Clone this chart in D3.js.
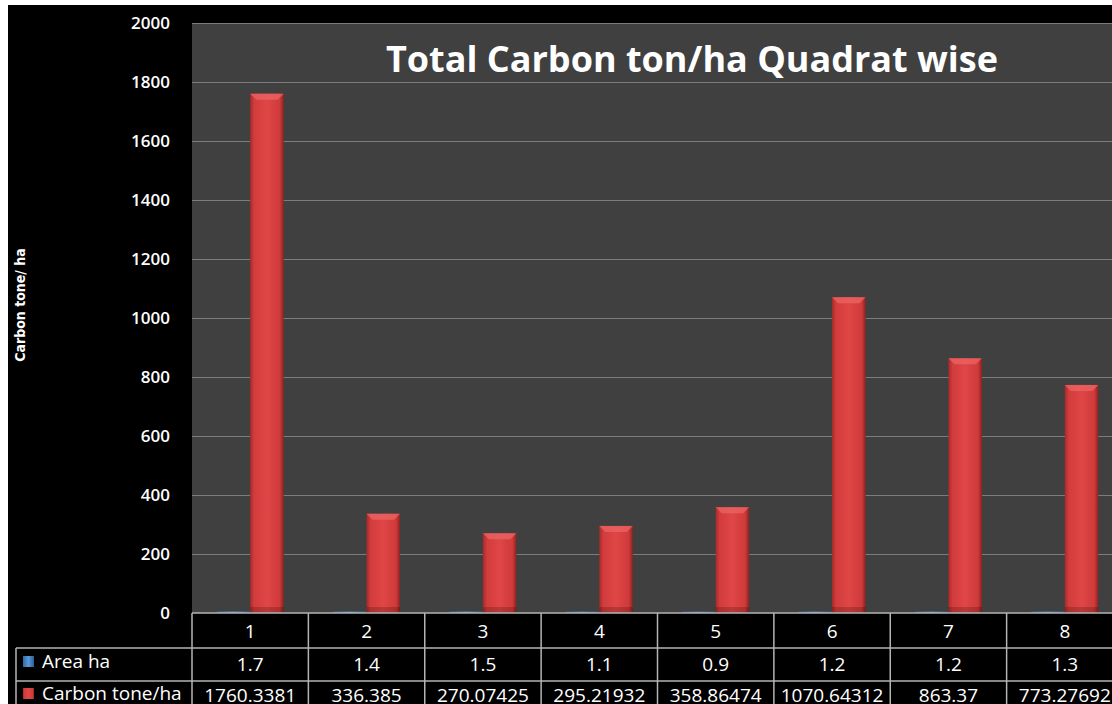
<!DOCTYPE html>
<html>
<head>
<meta charset="utf-8">
<script src="https://cdn.jsdelivr.net/npm/d3@7"></script>
<style>
  html, body { margin: 0; padding: 0; background: #fff; }
  svg { display: block; }
</style>
</head>
<body>
<svg id="chart" width="1112" height="704"></svg>
<script>
// data
const quadrats = ['1', '2', '3', '4', '5', '6', '7', '8'];
const areaHa = [1.7, 1.4, 1.5, 1.1, 0.9, 1.2, 1.2, 1.3];
const carbon = [1760.3381, 336.385, 270.07425, 295.21932, 358.86474, 1070.64312, 863.37, 773.27692];
const carbonLabels = ['1760.3381', '336.385', '270.07425', '295.21932', '358.86474', '1070.64312', '863.37', '773.27692'];
const yTicks = [0, 200, 400, 600, 800, 1000, 1200, 1400, 1600, 1800, 2000];

const svg = d3.select('#chart');
const W = 1112, H = 704;

// black chart area with white strip at top/left
svg.append('rect').attr('x', 8).attr('y', 5).attr('width', W - 8).attr('height', H - 5).attr('fill', '#000');

const plot = { left: 192, top: 23, right: 1123, bottom: 613 };

const x = d3.scaleBand().domain(quadrats).range([plot.left, plot.right]).paddingInner(0).paddingOuter(0);
const y = d3.scaleLinear().domain([0, 2000]).range([plot.bottom, plot.top]);

const defs = svg.append('defs');
const redGrad = defs.append('linearGradient').attr('id', 'redGrad').attr('x1', 0).attr('x2', 1).attr('y1', 0).attr('y2', 0);
redGrad.append('stop').attr('offset', '0%').attr('stop-color', '#a82a2a');
redGrad.append('stop').attr('offset', '12%').attr('stop-color', '#d23c3c');
redGrad.append('stop').attr('offset', '50%').attr('stop-color', '#e04646');
redGrad.append('stop').attr('offset', '88%').attr('stop-color', '#cf3a3a');
redGrad.append('stop').attr('offset', '100%').attr('stop-color', '#8e2222');
const blueGrad = defs.append('linearGradient').attr('id', 'blueGrad').attr('x1', 0).attr('x2', 1).attr('y1', 0).attr('y2', 0);
blueGrad.append('stop').attr('offset', '0%').attr('stop-color', '#2f6aa8');
blueGrad.append('stop').attr('offset', '50%').attr('stop-color', '#5a9ad8');
blueGrad.append('stop').attr('offset', '100%').attr('stop-color', '#2a5e96');

// plot background
svg.append('rect')
  .attr('x', plot.left).attr('y', plot.top)
  .attr('width', plot.right - plot.left).attr('height', plot.bottom - plot.top)
  .attr('fill', '#404040');

// gridlines
svg.append('g')
  .selectAll('line')
  .data(yTicks.filter(d => d > 0))
  .join('line')
  .attr('x1', plot.left).attr('x2', plot.right)
  .attr('y1', d => Math.round(y(d)) + 0.5).attr('y2', d => Math.round(y(d)) + 0.5)
  .attr('stroke', '#7c7c7c').attr('stroke-width', 1.2);

// y axis labels
const yAxis = d3.axisLeft(y).tickValues(yTicks).tickFormat(d3.format('d')).tickSize(0).tickPadding(22);
const yg = svg.append('g').attr('transform', `translate(${plot.left},0)`).call(yAxis);
yg.select('.domain').remove();
yg.selectAll('text')
  .attr('fill', '#fff')
  .style('font-family', '"Open Sans", sans-serif')
  .style('font-size', '17px')
  .style('font-weight', '600');

// y axis title
svg.append('text')
  .attr('transform', `translate(25,${305}) rotate(-90)`)
  .attr('text-anchor', 'middle')
  .attr('fill', '#fff')
  .style('font-family', '"Liberation Sans Narrow", "DejaVu Sans Condensed", sans-serif')
  .style('font-size', '14px')
  .style('font-weight', 'bold')
  .text('Carbon tone/ ha');

// bars
const barW = 33.5;
const groups = svg.append('g');
groups.selectAll('rect.area')
  .data(quadrats)
  .join('rect')
  .attr('class', 'area')
  .attr('x', (d) => x(d) + x.bandwidth() / 2 - barW)
  .attr('width', barW)
  .attr('y', (d, i) => y(areaHa[i]) - 1)
  .attr('height', (d, i) => plot.bottom - y(areaHa[i]) + 1)
  .attr('fill', 'url(#blueGrad)');

const redBars = groups.selectAll('g.carbon')
  .data(quadrats)
  .join('g')
  .attr('class', 'carbon');
redBars.append('rect')
  .attr('x', d => x(d) + x.bandwidth() / 2)
  .attr('width', barW)
  .attr('y', (d, i) => y(carbon[i]))
  .attr('height', (d, i) => plot.bottom - y(carbon[i]))
  .attr('fill', 'url(#redGrad)');
// top bevel highlight
redBars.append('path')
  .attr('d', (d, i) => {
    const x0 = x(d) + x.bandwidth() / 2, yt = y(carbon[i]);
    return `M${x0},${yt} L${x0 + barW},${yt} L${x0 + barW - 6},${yt + 6} L${x0 + 6},${yt + 6} Z`;
  })
  .attr('fill', '#ec6464').attr('opacity', 0.75);
redBars.append('rect')
  .attr('x', d => x(d) + x.bandwidth() / 2)
  .attr('width', barW)
  .attr('y', (d, i) => plot.bottom - 6)
  .attr('height', 6)
  .attr('fill', '#000').attr('opacity', 0.18);

// title
svg.append('text')
  .attr('x', 692).attr('y', 72)
  .attr('text-anchor', 'middle')
  .attr('fill', '#fff')
  .style('font-family', '"Open Sans", sans-serif')
  .style('font-size', '36px')
  .style('font-weight', 'bold')
  .text('Total Carbon ton/ha Quadrat wise');

// data table
const rowTop = [613, 648, 681];
const rowBot = [648, 681, 716];
const tableLeft = 16;
const gridColor = '#b4b4b4';
const tbl = svg.append('g');
const cellFont = g => g.attr('fill', '#fff')
  .style('font-family', '"Open Sans", sans-serif')
  .style('font-size', '19px');

// horizontal lines
tbl.append('line').attr('x1', plot.left).attr('x2', W).attr('y1', rowTop[0]).attr('y2', rowTop[0]).attr('stroke', gridColor).attr('stroke-width', 1.5);
[rowTop[1], rowTop[2]].forEach(yy => {
  tbl.append('line').attr('x1', tableLeft).attr('x2', W).attr('y1', yy).attr('y2', yy).attr('stroke', gridColor).attr('stroke-width', 1.5);
});
// left border of legend cells
tbl.append('line').attr('x1', tableLeft).attr('x2', tableLeft).attr('y1', rowTop[1]).attr('y2', H).attr('stroke', gridColor).attr('stroke-width', 1.5);
// vertical lines
tbl.selectAll('line.v')
  .data(quadrats)
  .join('line')
  .attr('class', 'v')
  .attr('x1', d => x(d)).attr('x2', d => x(d))
  .attr('y1', rowTop[0]).attr('y2', H)
  .attr('stroke', gridColor).attr('stroke-width', 1.5);

// header row
tbl.selectAll('text.hdr')
  .data(quadrats)
  .join('text')
  .attr('class', 'hdr')
  .attr('x', d => x(d) + x.bandwidth() / 2)
  .attr('y', (rowTop[0] + rowBot[0]) / 2 + 7)
  .attr('text-anchor', 'middle')
  .call(cellFont)
  .text(d => d);

tbl.selectAll('text.area')
  .data(quadrats)
  .join('text')
  .attr('class', 'area')
  .attr('x', d => x(d) + x.bandwidth() / 2)
  .attr('y', (rowTop[1] + rowBot[1]) / 2 + 6)
  .attr('text-anchor', 'middle')
  .call(cellFont)
  .text((d, i) => areaHa[i].toFixed(1));

tbl.selectAll('text.carbon')
  .data(quadrats)
  .join('text')
  .attr('class', 'carbon')
  .attr('x', d => x(d) + x.bandwidth() / 2)
  .attr('y', 702)
  .attr('text-anchor', 'middle')
  .call(cellFont)
  .text((d, i) => carbonLabels[i]);

// legend keys in table
const legendRows = [
  { label: 'Area ha', fill: 'url(#blueGrad)', cy: 663 },
  { label: 'Carbon tone/ha', fill: 'url(#redGrad)', cy: 695 }
];
legendRows.forEach(l => {
  tbl.append('rect').attr('x', 23).attr('y', l.cy - 7).attr('width', 11).attr('height', 11).attr('fill', l.fill);
  tbl.append('text').attr('x', 42).attr('y', l.cy + 5).call(cellFont).text(l.label);
});
</script>
</body>
</html>
